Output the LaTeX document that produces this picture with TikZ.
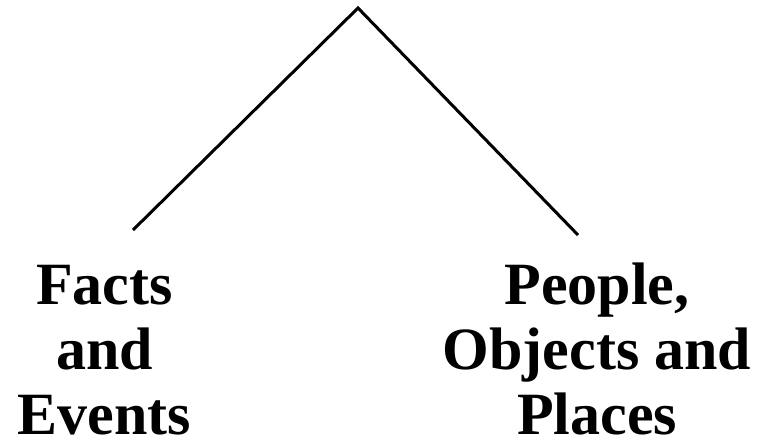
\documentclass[tikz,border=0pt]{standalone}
\usepackage{fontspec}
\setmainfont{Liberation Serif}
\begin{document}
\begin{tikzpicture}[x=1pt,y=-1pt,
  lbl/.style={align=center,font=\fontsize{60}{65}\selectfont\bfseries,inner sep=0pt},
  branch/.style={line width=3pt}]
\useasboundingbox (0,0) rectangle (758,440);
\coordinate (top) at (358,8);
\coordinate (lend) at (133,230);
\coordinate (rend) at (578,235);
\draw[branch] (lend) -- (top) -- (rend);
\node[lbl,anchor=base] (left) at (104.5,434) {Facts\\and\\Events};
\node[lbl,anchor=base] (right) at (597,434) {People,\\Objects and\\Places};
\end{tikzpicture}
\end{document}
